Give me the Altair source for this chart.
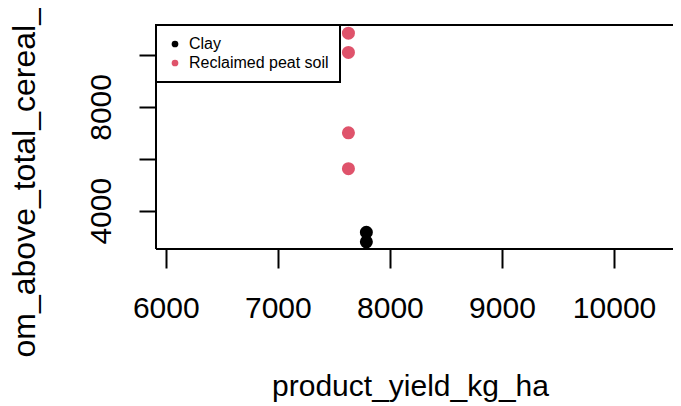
import altair as alt
import pandas as pd

# Data
soil = ["Reclaimed peat soil", "Reclaimed peat soil", "Reclaimed peat soil",
        "Reclaimed peat soil", "Clay", "Clay"]
product_yield = [7630, 7630, 7630, 7630, 7790, 7790]
om_above = [10840, 10100, 7000, 5620, 3170, 2800]

categories = ["Clay", "Reclaimed peat soil"]
colors = ["#000000", "#DF536B"]
x_ticks = [6000, 7000, 8000, 9000, 10000]
y_ticks = [4000, 6000, 8000, 10000]

df = pd.DataFrame({"soil": soil, "product_yield_kg_ha": product_yield,
                   "om_above": om_above})

FONT = "Liberation Sans"

points = alt.Chart(df).mark_circle(size=170, opacity=1).encode(
    x=alt.X("product_yield_kg_ha:Q",
            scale=alt.Scale(domain=[5913, 10526], nice=False, zero=False),
            axis=alt.Axis(values=x_ticks, format="d", domain=False, grid=False,
                          tickSize=19, tickWidth=2, tickColor="black",
                          labelFontSize=30, labelPadding=25, labelBaseline="top",
                          labelColor="black", labelOverlap=False, labelFlush=False,
                          title="product_yield_kg_ha", titleFontSize=30,
                          titleFontWeight="normal", titleColor="black",
                          titleX=254, titleY=146, titleAlign="center",
                          titleBaseline="alphabetic")),
    y=alt.Y("om_above:Q",
            scale=alt.Scale(domain=[2524, 11156], nice=False, zero=False),
            axis=alt.Axis(values=y_ticks, format="d", domain=False, grid=False,
                          tickSize=17, tickWidth=2, tickColor="black",
                          labelFontSize=30, labelPadding=29, labelAngle=270,
                          labelAlign="center", labelBaseline="alphabetic",
                          labelColor="black", labelOverlap=False, labelFlush=False,
                          labelExpr="(datum.value == 6000 || datum.value == 10000) ? '' : datum.label",
                          title="om_above_total_cereal_", titleFontSize=32,
                          titleFontWeight="normal", titleColor="black",
                          titleAngle=270, titleX=-122, titleY=332,
                          titleAlign="left", titleBaseline="alphabetic")),
    color=alt.Color("soil:N",
                    scale=alt.Scale(domain=categories, range=colors),
                    legend=alt.Legend(title=None, orient="none", legendX=0, legendY=0,
                                      fillColor="white", strokeColor="black",
                                      padding=11, symbolSize=45, symbolType="circle",
                                      labelFontSize=16, labelOffset=6, rowPadding=3,
                                      labelColor="black", labelFont=FONT)),
)

one = alt.Data(values=[{"k": 0}])
top_rule = alt.Chart(one).mark_rule(color="black", strokeWidth=2).encode(y=alt.value(0))
left_rule = alt.Chart(one).mark_rule(color="black", strokeWidth=2).encode(x=alt.value(0))
bottom_rule = alt.Chart(one).mark_rule(color="black", strokeWidth=2).encode(y=alt.value(224))

chart = alt.layer(points, top_rule, left_rule, bottom_rule).properties(
    width=517, height=224,
    autosize=alt.AutoSizeParams(type="none"),
    padding={"left": 148, "top": 17, "right": 0, "bottom": 160},
).configure(font=FONT).configure_view(stroke=None).configure_legend(strokeWidth=2)

chart.save("out.html", embed_options={"renderer": "svg", "actions": False})
